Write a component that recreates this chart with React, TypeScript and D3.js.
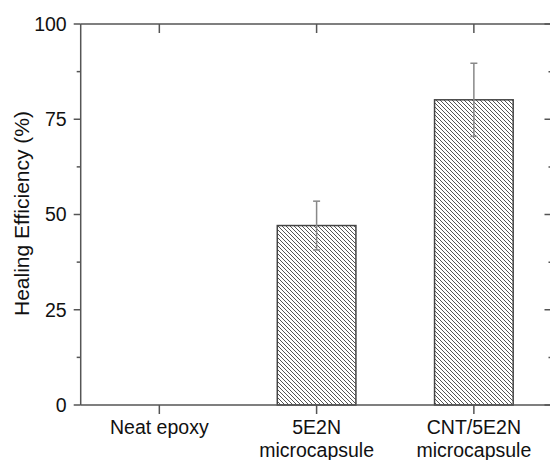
import React from 'react';
import * as d3 from 'd3';

// chart values
const categories = ['Neat epoxy', '5E2N|microcapsule', 'CNT/5E2N|microcapsule'];
const efficiency = [0, 47.1, 80.1];
const errors = [0, 6.4, 9.6];
const yTicks = [0, 25, 50, 75, 100];
const yMinorTicks = [12.5, 37.5, 62.5, 87.5];

const W = 550;
const H = 460;
const margin = { top: 24, right: -2.5, bottom: 55, left: 80.7 };

const axisColor = '#555';
const font = "'Liberation Sans', Arial, sans-serif";

const App = () => {
    const x0 = margin.left;
    const x1 = W - margin.right;
    const y0 = H - margin.bottom;
    const y1 = margin.top;

    const xScale = d3.scalePoint<string>().domain(categories).range([x0, x1]).padding(0.5);
    const yScale = d3.scaleLinear().domain([0, 100]).range([y0, y1]);
    const barW = xScale.step() * 0.5;

    return (
        <svg
            width={W}
            height={H}
            style={{ position: 'absolute', left: 0, top: 0, background: '#fff' }}
            fontFamily={font}
        >
            <defs>
                <pattern id="hatch" patternUnits="userSpaceOnUse" width={4} height={4}>
                    <path d="M-1,-1 L5,5 M3,-1 L5,1 M-1,3 L1,5" stroke="#555" strokeWidth={1} />
                </pattern>
            </defs>

            {/* bars */}
            {categories.map((c, i) =>
                efficiency[i] > 0 ? (
                    <rect
                        key={c}
                        x={xScale(c)! - barW / 2}
                        y={yScale(efficiency[i])}
                        width={barW}
                        height={yScale(0) - yScale(efficiency[i])}
                        fill="url(#hatch)"
                        stroke="#444"
                        strokeWidth={1.5}
                    />
                ) : null
            )}

            {/* error bars */}
            {categories.map((c, i) => {
                if (!errors[i]) return null;
                const cx = xScale(c)!;
                const top = yScale(efficiency[i] + errors[i]);
                const bot = yScale(efficiency[i] - errors[i]);
                return (
                    <g key={c} stroke="#888" strokeWidth={1.5}>
                        <line x1={cx} x2={cx} y1={top} y2={bot} />
                        <line x1={cx - 3.5} x2={cx + 3.5} y1={top} y2={top} />
                        <line x1={cx - 3.5} x2={cx + 3.5} y1={bot} y2={bot} />
                    </g>
                );
            })}

            {/* frame */}
            <g stroke={axisColor} strokeWidth={1.5} fill="none">
                <line x1={x0} x2={x1} y1={y0} y2={y0} />
                <line x1={x0} x2={x1} y1={y1} y2={y1} />
                <line x1={x0} x2={x0} y1={y1} y2={y0} />
                <line x1={x1} x2={x1} y1={y1} y2={y0} />
                {yTicks.map((t) => (
                    <g key={t}>
                        <line x1={x0 - 7} x2={x0} y1={yScale(t)} y2={yScale(t)} />
                        <line x1={x1 - 8} x2={x1} y1={yScale(t)} y2={yScale(t)} />
                    </g>
                ))}
                {yMinorTicks.map((t) => (
                    <g key={t}>
                        <line x1={x0 - 4} x2={x0} y1={yScale(t)} y2={yScale(t)} />
                        <line x1={x1 - 4} x2={x1} y1={yScale(t)} y2={yScale(t)} />
                    </g>
                ))}
                {categories.map((c) => (
                    <g key={c}>
                        <line x1={xScale(c)} x2={xScale(c)} y1={y0} y2={y0 + 9} />
                        <line x1={xScale(c)} x2={xScale(c)} y1={y1} y2={y1 + 9} />
                    </g>
                ))}
            </g>

            {/* y tick labels */}
            {yTicks.map((t) => (
                <text
                    key={t}
                    x={x0 - 14}
                    y={yScale(t)}
                    dy="0.35em"
                    textAnchor="end"
                    fontSize={19.5}
                    fill="#111"
                >
                    {t}
                </text>
            ))}

            {/* category labels */}
            {categories.map((c) => (
                <text key={c} x={xScale(c)} y={434} textAnchor="middle" fontSize={19.5} fill="#111">
                    {c.split('|').map((line, j) => (
                        <tspan key={j} x={xScale(c)} dy={j === 0 ? 0 : 23}>
                            {line}
                        </tspan>
                    ))}
                </text>
            ))}

            {/* y axis title */}
            <text
                transform={`translate(29,${(y0 + y1) / 2 - 1}) rotate(-90)`}
                textAnchor="middle"
                fontSize={21}
                fill="#111"
            >
                Healing Efficiency (%)
            </text>
        </svg>
    );
};

export default App;
